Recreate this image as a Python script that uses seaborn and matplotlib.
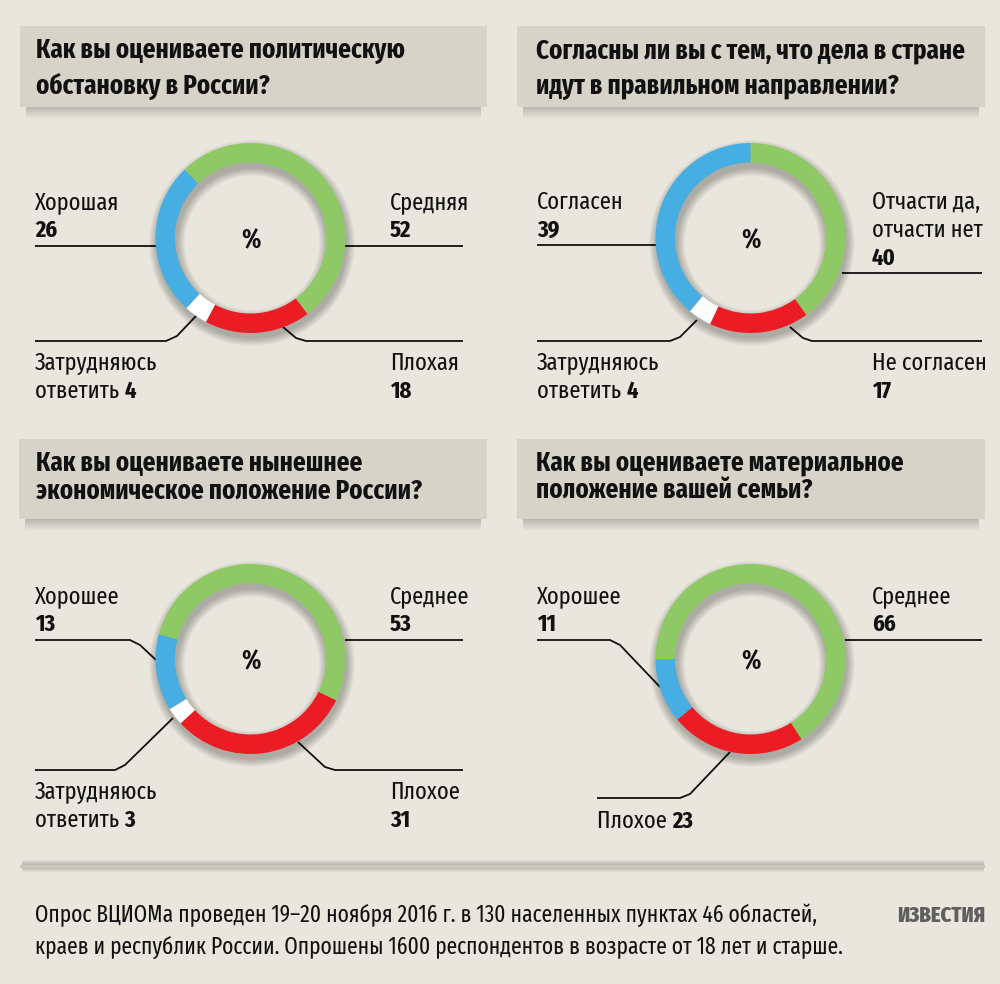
import numpy as np
import pandas as pd
import seaborn as sns
import matplotlib
matplotlib.use("Agg")
import matplotlib.pyplot as plt
from matplotlib.patches import Rectangle

# ---------------- data ----------------
titles = [
    "Как вы оцениваете политическую\nобстановку в России?",
    "Согласны ли вы с тем, что дела в стране\nидут в правильном направлении?",
    "Как вы оцениваете нынешнее\nэкономическое положение России?",
    "Как вы оцениваете материальное\nположение вашей семьи?",
]
# values listed clockwise around each ring: medium, bad, hard to say, good
chart1_cats = ["Средняя", "Плохая", "Затрудняюсь ответить", "Хорошая"]
chart1_vals = [52, 18, 4, 26]
chart2_cats = ["Отчасти да, отчасти нет", "Не согласен", "Затрудняюсь ответить", "Согласен"]
chart2_vals = [40, 17, 4, 39]
chart3_cats = ["Среднее", "Плохое", "Затрудняюсь ответить", "Хорошее"]
chart3_vals = [53, 31, 3, 13]
chart4_cats = ["Среднее", "Плохое", "Хорошее"]
chart4_vals = [66, 23, 11]

footnote = ("Опрос ВЦИОМа проведен 19–20 ноября 2016 г. в 130 населенных пунктах 46 областей,\n"
            "краев и республик России. Опрошены 1600 респондентов в возрасте от 18 лет и старше.")
logo = "ИЗВЕСТИЯ"

# ---------------- style ----------------
BG = "#e9e7dd"
BOX = "#d6d4c8"
GREEN = "#8fc965"
RED = "#ec1c24"
BLUE = "#46aee2"
WHITE = "#ffffff"
INK = "#111111"

sns.set_theme(style="white")
plt.rcParams["font.family"] = ["Fira Sans Extra Condensed", "Fira Sans Condensed", "DejaVu Sans"]

W, H = 1000, 984
fig = plt.figure(figsize=(W / 100, H / 100), dpi=100, facecolor=BG)
ax = fig.add_axes([0, 0, 1, 1])
ax.set_xlim(0, W)
ax.set_ylim(H, 0)
ax.set_facecolor(BG)
ax.axis("off")

# ---------------- title boxes ----------------
boxes = [(20, 26, 467, 81), (517, 26, 468, 81), (19, 439, 468, 80), (517, 439, 468, 80)]
title_base = [(36, 58, 36), (536, 58, 36), (36, 470, 29), (536, 470, 29)]
for (x0, y0, bw, bh), (tx, ty, dy), t in zip(boxes, title_base, titles):
    for i in range(6):
        ax.add_patch(Rectangle((x0 + 6, y0 + bh - 3), bw - 12, 4 + 2 * i,
                               facecolor="#000000", alpha=0.035, lw=0, zorder=1))
    ax.add_patch(Rectangle((x0, y0), bw, bh, facecolor=BOX, lw=0, zorder=2))
    for j, line in enumerate(t.split("\n")):
        ax.text(tx, ty + j * dy, line, fontsize=19.5, fontweight="bold",
                color=INK, va="baseline", ha="left", zorder=3)

# ---------------- donuts ----------------
def donut(cx, cy, vals, colors, start):
    a = fig.add_axes([(cx - 100) / W, 1 - (cy + 100) / H, 200 / W, 200 / H])
    a.set_facecolor("none")
    # soft drop shadow
    for k in range(7):
        a.pie([1], radius=0.955 + 0.012 * k, center=(0.015, -0.05),
              colors=["#000000"], startangle=90,
              wedgeprops=dict(width=0.21 + 0.024 * k, alpha=0.04, lw=0))
    a.pie(vals, radius=0.95, startangle=start, counterclock=False, colors=colors,
          wedgeprops=dict(width=0.195, lw=0))
    a.set_xlim(-1, 1)
    a.set_ylim(-1, 1)
    a.set_aspect("equal")
    a.axis("off")
    ax.text(cx, cy + 10, "%", fontsize=19, fontweight="bold", color=INK,
            ha="center", va="baseline", zorder=5)

donut(250.5, 238, chart1_vals, [GREEN, RED, WHITE, BLUE], 134)
donut(750.5, 238, chart2_vals, [GREEN, RED, WHITE, BLUE], 90)
donut(250.5, 659, chart3_vals, [GREEN, RED, WHITE, BLUE], 165)
donut(750.5, 659, chart4_vals, [GREEN, RED, BLUE], 180)

# ---------------- leader lines ----------------
leaders = [
    [(35, 246), (156, 246)],
    [(345, 246), (463, 246)],
    [(196, 316), (177, 336), (166, 341), (35, 341)],
    [(283, 327), (296, 338), (306, 341), (463, 341)],
    [(537, 245), (656, 245)],
    [(842, 273), (982, 273)],
    [(697, 320), (680, 337), (670, 341), (537, 341)],
    [(790, 327), (803, 338), (812, 341), (982, 341)],
    [(35, 640), (130, 640), (140, 645), (156, 660)],
    [(345, 640), (463, 640)],
    [(173, 718), (125, 765), (115, 770), (35, 770)],
    [(298, 742), (325, 767), (335, 770), (463, 770)],
    [(537, 640), (610, 640), (620, 645), (660, 687)],
    [(845, 640), (982, 640)],
    [(730, 752), (690, 794), (680, 798), (597, 798)],
]
for pts in leaders:
    xs, ys = zip(*pts)
    ax.plot(xs, ys, color=INK, lw=1.3, solid_capstyle="butt", zorder=4)

# ---------------- labels ----------------
fig.canvas.draw()
renderer = fig.canvas.get_renderer()
FS = 17.5

def label(x, y, parts):
    """parts: list of (text, bold) drawn on one baseline."""
    cur = x
    for txt, bold in parts:
        t = ax.text(cur, y, txt, fontsize=FS, fontweight="bold" if bold else "normal",
                    color=INK, va="baseline", ha="left", zorder=5)
        cur += t.get_window_extent(renderer).width

LS = 28
# chart 1
label(35, 209, [(chart1_cats[3], False)]); label(35, 209 + LS, [(str(chart1_vals[3]), True)])
label(390, 209, [(chart1_cats[0], False)]); label(390, 209 + LS, [(str(chart1_vals[0]), True)])
label(35, 370, [("Затрудняюсь", False)]); label(35, 370 + LS, [("ответить ", False), (str(chart1_vals[2]), True)])
label(390, 370, [(chart1_cats[1], False)]); label(390, 370 + LS, [(str(chart1_vals[1]), True)])
# chart 2
label(537, 209, [(chart2_cats[3], False)]); label(537, 209 + LS, [(str(chart2_vals[3]), True)])
label(872, 209, [("Отчасти да,", False)]); label(872, 209 + LS, [("отчасти нет", False)])
label(872, 209 + 2 * LS, [(str(chart2_vals[0]), True)])
label(537, 370, [("Затрудняюсь", False)]); label(537, 370 + LS, [("ответить ", False), (str(chart2_vals[2]), True)])
label(872, 370, [(chart2_cats[1], False)]); label(872, 370 + LS, [(str(chart2_vals[1]), True)])
# chart 3
label(35, 603, [(chart3_cats[3], False)]); label(35, 603 + LS, [(str(chart3_vals[3]), True)])
label(390, 603, [(chart3_cats[0], False)]); label(390, 603 + LS, [(str(chart3_vals[0]), True)])
label(35, 799, [("Затрудняюсь", False)]); label(35, 799 + LS, [("ответить ", False), (str(chart3_vals[2]), True)])
label(390, 799, [(chart3_cats[1], False)]); label(390, 799 + LS, [(str(chart3_vals[1]), True)])
# chart 4
label(537, 603, [(chart4_cats[2], False)]); label(537, 603 + LS, [(str(chart4_vals[2]), True)])
label(872, 603, [(chart4_cats[0], False)]); label(872, 603 + LS, [(str(chart4_vals[0]), True)])
label(597, 828, [(chart4_cats[1] + " ", False), (str(chart4_vals[1]), True)])

# ---------------- footer ----------------
for i in range(5):
    ax.add_patch(Rectangle((22, 864 - i), 962, 4 + 2 * i, facecolor="#000000",
                           alpha=0.04, lw=0, zorder=1))
ax.add_patch(Rectangle((20, 865), 965, 3, facecolor="#c9c7bc", lw=0, zorder=2))
for j, line in enumerate(footnote.split("\n")):
    ax.text(35, 922 + j * 32, line, fontsize=16.8, color=INK, va="baseline", ha="left")
ax.text(985, 922, logo, fontsize=16, fontweight="heavy", color="#5f5f5f",
        va="baseline", ha="right")

fig.savefig("out.png", dpi=100, facecolor=BG)
